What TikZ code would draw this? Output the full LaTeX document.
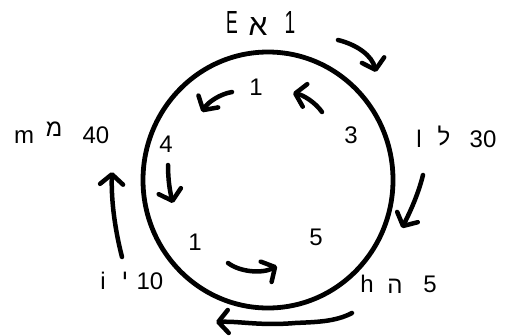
\documentclass[tikz,border=0pt]{standalone}
\usepackage{fontspec}
\setmainfont{Liberation Sans}
\newfontfamily\hebfont[Script=Hebrew]{Liberation Sans}
\TeXXeTstate=1
\usepackage{graphicx}
\usetikzlibrary{arrows.meta}

\begin{document}
\begin{tikzpicture}[x=1pt, y=-1pt,
    txt/.style={font=\fontsize{24}{24}\selectfont, inner sep=0pt, anchor=base},
    txtgrand/.style={font=\fontsize{32}{32}\selectfont, inner sep=0pt, anchor=base},
    heb/.style={font=\fontsize{24}{24}\selectfont\hebfont, inner sep=0pt},
    fleche/.style={line width=4.5pt, line cap=round, line join=round,
      -{Straight Barb[round, length=10pt, width=23pt]}}]

  \useasboundingbox (0,0) rectangle (508,335);

  % --- Cercle ---
  \draw[line width=4.8pt] (268,180) ellipse [x radius=125pt, y radius=128pt];

  % --- Lettres autour du cercle (latin, hebreu, valeur) ---
  \node[txtgrand] (eLat) at (232,33) {\scalebox{0.55}[1]{E}};
  \node[heb, font=\fontsize{30}{30}\selectfont\hebfont] (eHeb) at (258,27) {\beginR א\endR};
  \node[txtgrand] (eNum) at (290,33) {\scalebox{0.6}[1]{1}};

  \node[txt] (lLat) at (419,147) {l};
  \node[heb] (lHeb) at (444,136) {\beginR ל\endR};
  \node[txt] (lNum) at (483,147) {30};

  \node[txt] (hLat) at (367,292) {h};
  \node[heb] (hHeb) at (395,286) {\beginR ה\endR};
  \node[txt] (hNum) at (430,292) {5};

  \node[txt] (iLat) at (103,289) {i};
  \node[heb] (iHeb) at (125,279) {\beginR י\endR};
  \node[txt] (iNum) at (150,289) {10};

  \node[txt] (mLat) at (24,143) {m};
  \node[heb] (mHeb) at (54,129) {\beginR מ\endR};
  \node[txt] (mNum) at (96,143) {40};

  % --- Chiffres dans le cercle ---
  \node[txt] (nHaut)   at (256,95)  {1};
  \node[txt] (nDroite) at (351,143) {3};
  \node[txt] (nGauche) at (166,152) {4};
  \node[txt] (nBasG)   at (195,250) {1};
  \node[txt] (nBasD)   at (316,245) {5};

  % --- Fleches exterieures ---
  \coordinate (oA) at (338,40);  \coordinate (oB) at (376,72);
  \coordinate (oC) at (423,175); \coordinate (oD) at (402,228);
  \coordinate (oE) at (352,313); \coordinate (oF) at (216,322);
  \coordinate (oG) at (122,257); \coordinate (oH) at (112,172);
  \draw[fleche] (oA) .. controls (358,45) and (372,56) .. (oB);
  \draw[fleche] (oC) .. controls (418,195) and (410,212) .. (oD);
  \draw[fleche] (oE) .. controls (335,322) and (315,322) .. (295,323)
    .. controls (260,326) and (240,321) .. (oF);
  \draw[fleche] (oG) .. controls (115,230) and (111,200) .. (oH);

  % --- Fleches interieures ---
  \coordinate (iA) at (232,92);  \coordinate (iB) at (202,112);
  \coordinate (iC) at (322,112); \coordinate (iD) at (293,93);
  \coordinate (iE) at (168,165); \coordinate (iF) at (173,203);
  \coordinate (iG) at (228,263); \coordinate (iH) at (277,266);
  \draw[fleche] (iA) .. controls (220,94) and (208,102) .. (iB);
  \draw[fleche] (iC) .. controls (315,102) and (303,95) .. (iD);
  \draw[fleche] (iE) .. controls (168,180) and (170,192) .. (iF);
  \draw[fleche] (iG) .. controls (240,272) and (262,274) .. (iH);

\end{tikzpicture}
\end{document}
